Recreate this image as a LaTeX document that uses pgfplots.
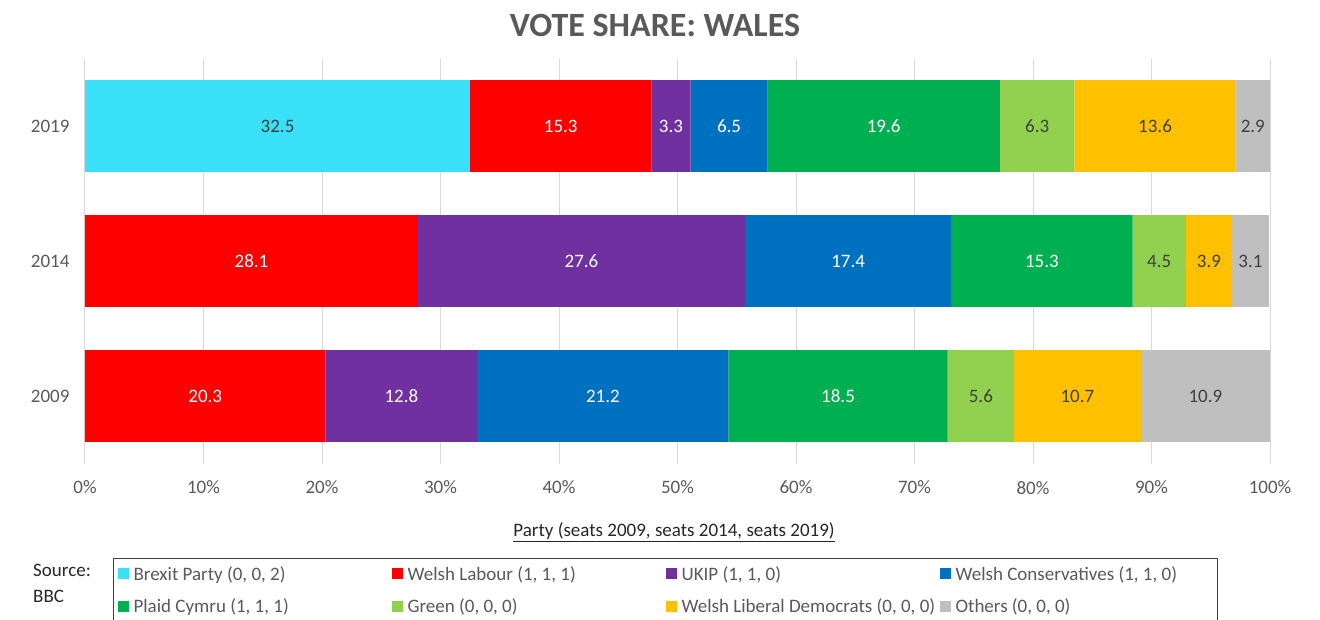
\documentclass[border=0pt]{standalone}
\usepackage{pgfplots}
\pgfplotsset{compat=1.18}
\usepackage{fontspec}
\setmainfont{Carlito}

\definecolor{brexit}{HTML}{3AE0F8}
\definecolor{labour}{HTML}{FF0000}
\definecolor{ukip}{HTML}{7030A0}
\definecolor{cons}{HTML}{0070C0}
\definecolor{plaid}{HTML}{00B050}
\definecolor{green}{HTML}{92D050}
\definecolor{libdem}{HTML}{FFC000}
\definecolor{others}{HTML}{BFBFBF}
\definecolor{txt}{HTML}{595959}
\definecolor{dark}{HTML}{404040}
\definecolor{gridc}{HTML}{D9D9D9}

\begin{document}
\begin{tikzpicture}
\path[use as bounding box] (-85pt,-155.5pt) rectangle (1235pt,463.5pt);
\begin{axis}[
  at={(0pt,0pt)}, anchor=south west,
  scale only axis, width=1185pt, height=405pt,
  xbar stacked, bar width=0.68,
  xmin=0, xmax=100, ymin=-0.5, ymax=2.5,
  xtick={0,10,...,100},
  xticklabel={\pgfmathprintnumber{\tick}\%},
  ytick={0,1,2}, yticklabels={2009,2014,2019},
  xmajorgrids, grid style={gridc, line width=1pt},
  major tick length=0pt,
  axis line style={draw=none},
  tick label style={font=\fontsize{19}{22}\selectfont, text=txt},
  xticklabel shift=14pt, yticklabel shift=12pt,
  /pgf/number format/assume math mode=true,
  point meta=rawx,
  nodes near coords={\pgfmathfloatifflags{\pgfplotspointmeta}{0}{}{\pgfmathprintnumber[fixed,fixed zerofill,precision=1]{\pgfplotspointmeta}}},
  every node near coord/.append style={font=\fontsize{19}{22}\selectfont},
  legend columns=4,
  legend cell align=left,
  legend style={at={(rel axis cs:0.0236,-0.2333)}, anchor=north west,
    draw=dark, line width=1.2pt, font=\fontsize{19}{22}\selectfont, text=txt,
    inner xsep=4pt, inner ysep=6pt, row sep=13pt},
  legend image code/.code={\path[#1, draw=none] (0pt,-5pt) rectangle (11pt,6pt);
    \path (0pt,0pt) -- (14pt,0pt);},
]
% vote shares, bottom to top: 2009, 2014, 2019
\addplot[fill=brexit, draw=none, every node near coord/.append style={text=dark}]
  coordinates {(0,0) (0,1) (32.5,2)};
\addplot[fill=labour, draw=none, every node near coord/.append style={text=white}]
  coordinates {(20.3,0) (28.1,1) (15.3,2)};
\addplot[fill=ukip, draw=none, every node near coord/.append style={text=white}]
  coordinates {(12.8,0) (27.6,1) (3.3,2)};
\addplot[fill=cons, draw=none, every node near coord/.append style={text=white}]
  coordinates {(21.2,0) (17.4,1) (6.5,2)};
\addplot[fill=plaid, draw=none, every node near coord/.append style={text=white}]
  coordinates {(18.5,0) (15.3,1) (19.6,2)};
\addplot[fill=green, draw=none, every node near coord/.append style={text=dark}]
  coordinates {(5.6,0) (4.5,1) (6.3,2)};
\addplot[fill=libdem, draw=none, every node near coord/.append style={text=dark}]
  coordinates {(10.7,0) (3.9,1) (13.6,2)};
\addplot[fill=others, draw=none, every node near coord/.append style={text=dark}]
  coordinates {(10.9,0) (3.1,1) (2.9,2)};
\addlegendentry{\makebox[256pt][l]{Brexit Party (0, 0, 2)}}
\addlegendentry{\makebox[256pt][l]{Welsh Labour (1, 1, 1)}}
\addlegendentry{\makebox[256pt][l]{UKIP (1, 1, 0)}}
\addlegendentry{\makebox[256pt][l]{Welsh Conservatives (1, 1, 0)}}
\addlegendentry{\makebox[256pt][l]{Plaid Cymru (1, 1, 1)}}
\addlegendentry{\makebox[256pt][l]{Green (0, 0, 0)}}
\addlegendentry{\makebox[256pt][l]{Welsh Liberal Democrats (0, 0, 0)}}
\addlegendentry{\makebox[256pt][l]{Others (0, 0, 0)}}
\end{axis}
\node[font=\fontsize{34}{40}\selectfont\bfseries, text=txt] at (570pt,438.5pt) {VOTE SHARE: WALES};
\node[font=\fontsize{19}{22}\selectfont, text=black!85] at (589pt,-68.5pt) {\underline{Party (seats 2009, seats 2014, seats 2019)}};
\node[font=\fontsize{19}{26}\selectfont, text=black!85, align=left, anchor=north west, inner sep=0pt] at (-52pt,-100.5pt) {Source:\\BBC};
\end{tikzpicture}
\end{document}
